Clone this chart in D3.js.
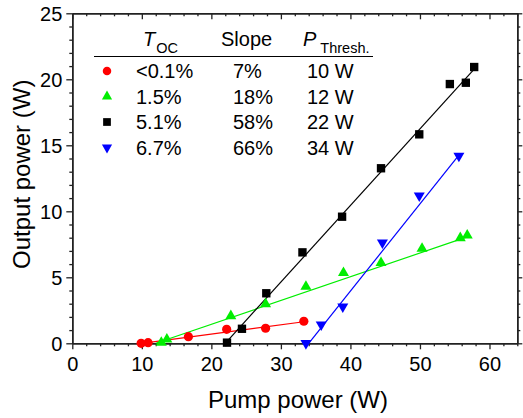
<!DOCTYPE html>
<html>
<head>
	<meta charset="utf-8">
	<title>Output vs pump power</title>
	<script type="text/javascript" src="https://cdn.jsdelivr.net/npm/d3@7"></script>
	<style type="text/css">
		body { margin: 0; background: #fff; }
		svg text { font-family: "Liberation Sans", Arial, sans-serif; fill: #000; }
		.axis path, .axis line { stroke: #222; }
	</style>
</head>
<body>
	<div id="chart"></div>
	<script type="text/javascript">
		// measured points, one pair of arrays per output coupler
		const redX = [9.9, 10.9, 16.7, 22.2, 27.8, 33.3];
		const redY = [0, 0.05, 0.5, 1.06, 1.14, 1.67];
		const greenX = [12.8, 13.6, 22.8, 27.8, 33.6, 39.0, 44.4, 50.3, 55.8, 56.8];
		const greenY = [0.05, 0.3, 2.07, 2.98, 4.29, 5.33, 6.1, 7.17, 7.98, 8.18];
		const blackX = [22.25, 24.4, 27.9, 33.1, 38.8, 44.4, 49.9, 54.3, 56.6, 57.8];
		const blackY = [0.05, 1.1, 3.79, 6.89, 9.59, 13.26, 15.83, 19.64, 19.74, 20.93];
		const blueX = [33.6, 35.8, 38.9, 44.6, 49.9, 55.6];
		const blueY = [0, 1.41, 2.77, 7.62, 11.18, 14.19];

		// table values
		const tocLabels = ["<0.1%", "1.5%", "5.1%", "6.7%"];
		const slopeLabels = ["7%", "18%", "58%", "66%"];
		const threshLabels = ["10 W", "12 W", "22 W", "34 W"];
		const slopes = [0.07, 0.18, 0.58, 0.66];
		const thresholds = [10, 12, 22, 34];

		const xTicks = [0, 10, 20, 30, 40, 50, 60];
		const yTicks = [0, 5, 10, 15, 20, 25];

		const width = 523, height = 418;
		const margin = {top: 13.3, right: 5.7, bottom: 74.7, left: 72.3};

		const x = d3.scaleLinear().domain([0, 64]).range([margin.left, width - margin.right]);
		const y = d3.scaleLinear().domain([0, 25]).range([height - margin.bottom, margin.top]);

		const series = [
			{xs: redX, ys: redY, color: "#ff0000", shape: "circle"},
			{xs: greenX, ys: greenY, color: "#00ee00", shape: "up"},
			{xs: blackX, ys: blackY, color: "#000000", shape: "square"},
			{xs: blueX, ys: blueY, color: "#0000ff", shape: "down"}
		];

		const svg = d3.select("#chart").append("svg")
			.attr("width", width)
			.attr("height", height);

		const minorX = d3.range(0, 65, 2).filter(d => d % 10 !== 0);
		const minorY = d3.range(0, 26, 1).filter(d => d % 5 !== 0);

		// minor ticks first, then the major axes on top
		const addAxis = function (axisFn, scale, tickVals, size, translate, showLabels) {
			const g = svg.append("g")
				.attr("class", "axis")
				.attr("transform", translate)
				.call(axisFn(scale).tickValues(tickVals).tickSize(size).tickSizeOuter(0)
					.tickFormat(showLabels ? d3.format("d") : ""));
			g.selectAll(".tick line").attr("stroke-width", 1.3);
			g.select(".domain").attr("stroke-width", 1.5);
			g.selectAll("text").attr("font-size", "20px");
			return g;
		};

		const x0 = y(0), yTop = y(25), xl = x(0), xr = x(64);

		// bottom
		addAxis(d3.axisBottom, x, minorX, 3, `translate(0,${x0})`, false);
		const bottom = addAxis(d3.axisBottom, x, xTicks, 6, `translate(0,${x0})`, true);
		bottom.selectAll("text").attr("dy", null).attr("y", 28);
		// top (ticks inside)
		addAxis(d3.axisTop, x, minorX, -3, `translate(0,${yTop})`, false);
		addAxis(d3.axisTop, x, xTicks, -6, `translate(0,${yTop})`, false);
		// left
		addAxis(d3.axisLeft, y, minorY, 3, `translate(${xl},0)`, false);
		const left = addAxis(d3.axisLeft, y, yTicks, 6, `translate(${xl},0)`, true);
		left.selectAll("text").attr("x", -10).attr("dy", "0.36em");
		// right
		addAxis(d3.axisRight, y, minorY, 3, `translate(${xr},0)`, false);
		addAxis(d3.axisRight, y, yTicks, 5, `translate(${xr},0)`, false);

		// axis titles
		svg.append("text")
			.attr("x", 298)
			.attr("y", 408)
			.attr("text-anchor", "middle")
			.attr("font-size", "24px")
			.text("Pump power (W)");

		svg.append("text")
			.attr("transform", `translate(30,${(yTop + x0) / 2 - 4}) rotate(-90)`)
			.attr("text-anchor", "middle")
			.attr("font-size", "24px")
			.text("Output power (W)");

		const markerPath = function (shape, s) {
			if (shape === "circle") return d3.symbol(d3.symbolCircle, s * 0.95)();
			if (shape === "square") return d3.symbol(d3.symbolSquare, s)();
			return d3.symbol(d3.symbolTriangle, s * 0.75)();
		};

		// linear fits: slope * (P - threshold), drawn up to the last point
		const line = d3.line().x(d => x(d[0])).y(d => y(d[1]));
		series.forEach(function (s, i) {
			const xEnd = d3.max(s.xs);
			const pts = [[thresholds[i], 0], [xEnd, slopes[i] * (xEnd - thresholds[i])]];
			svg.append("path")
				.attr("d", line(pts))
				.attr("fill", "none")
				.attr("stroke", s.color)
				.attr("stroke-width", 1.2);
		});

		series.forEach(function (s) {
			svg.append("g").selectAll("path")
				.data(s.xs.map((v, j) => [v, s.ys[j]]))
				.join("path")
				.attr("d", markerPath(s.shape, 70))
				.attr("transform", d => `translate(${x(d[0])},${y(d[1])})` + (s.shape === "down" ? " rotate(180)" : ""))
				.attr("fill", s.color);
		});

		// table legend
		const legend = svg.append("g");
		const colMark = 107, colToc = 136, colSlope = 233, colThr = 307;
		const headY = 46;

		const h1 = legend.append("text").attr("x", 143).attr("y", headY).attr("font-size", "20px");
		h1.append("tspan").attr("font-style", "italic").text("T");
		h1.append("tspan").attr("font-size", "14.5px").attr("dy", 7).attr("dx", 1).text("OC");

		legend.append("text").attr("x", 221).attr("y", headY).attr("font-size", "20px").text("Slope");

		const h3 = legend.append("text").attr("x", 303).attr("y", headY).attr("font-size", "20px");
		h3.append("tspan").attr("font-style", "italic").text("P");
		h3.append("tspan").attr("font-size", "14.5px").attr("dy", 7).attr("dx", 4).text("Thresh.");

		legend.append("line")
			.attr("x1", 94).attr("x2", 373)
			.attr("y1", 56.5).attr("y2", 56.5)
			.attr("stroke", "#000").attr("stroke-width", 1.2);

		series.forEach(function (s, i) {
			const by = 78 + i * 25.5;
			legend.append("path")
				.attr("d", markerPath(s.shape, 60))
				.attr("transform", `translate(${colMark},${by - 7})` + (s.shape === "down" ? " rotate(180)" : ""))
				.attr("fill", s.color);
			legend.append("text").attr("x", colToc).attr("y", by).attr("font-size", "20px").text(tocLabels[i]);
			legend.append("text").attr("x", colSlope).attr("y", by).attr("font-size", "20px").text(slopeLabels[i]);
			legend.append("text").attr("x", colThr).attr("y", by).attr("font-size", "20px").text(threshLabels[i]);
		});
	</script>
</body>
</html>
